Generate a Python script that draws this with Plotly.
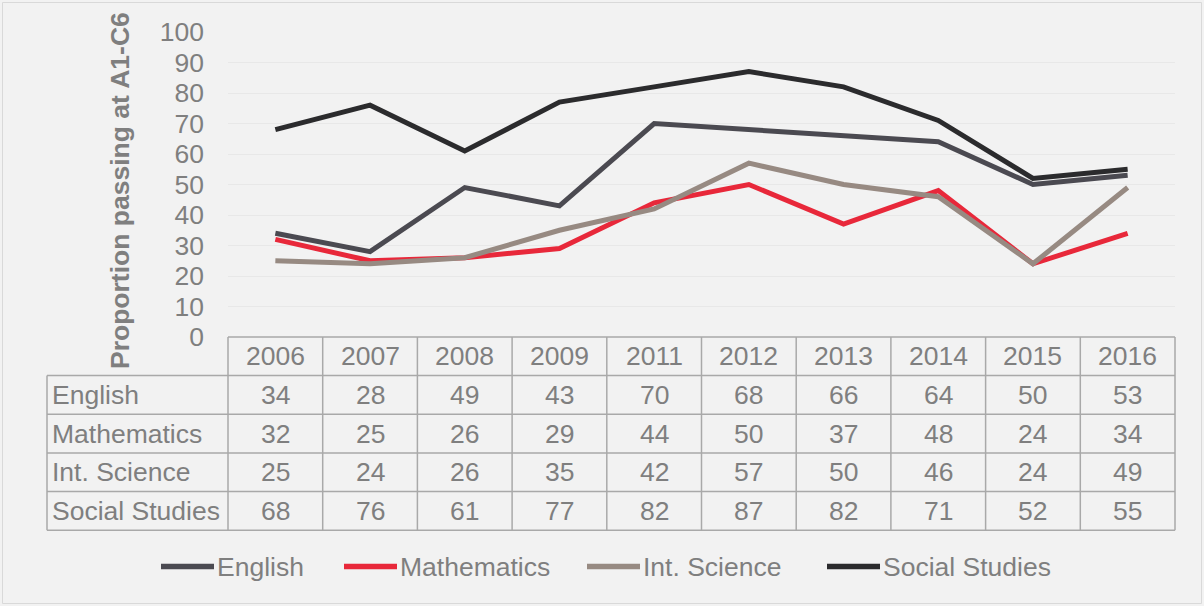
import plotly.graph_objects as go

years = ["2006", "2007", "2008", "2009", "2011", "2012", "2013", "2014", "2015", "2016"]
series_names = ["English", "Mathematics", "Int. Science", "Social Studies"]
english = [34, 28, 49, 43, 70, 68, 66, 64, 50, 53]
mathematics = [32, 25, 26, 29, 44, 50, 37, 48, 24, 34]
int_science = [25, 24, 26, 35, 42, 57, 50, 46, 24, 49]
social_studies = [68, 76, 61, 77, 82, 87, 82, 71, 52, 55]
y_ticks = [0, 10, 20, 30, 40, 50, 60, 70, 80, 90, 100]

series_values = [english, mathematics, int_science, social_studies]
colors = ["#4b4a51", "#e8283a", "#978a82", "#2b2b2d"]

FONT = "Liberation Sans, Arial, sans-serif"
FS = 26.5
TXT = "#7f7f7f"
GRIDC = "#e8e8e8"
TABLEC = "#a9a9a9"

W, H = 1204, 606
L, R, T, B = 228, 29, 32, 269
PW = W - L - R
PH = H - T - B


def px(x):
    return (x - L) / PW


def py(y):
    return (H - B - y) / PH


fig = go.Figure()
for name, vals, c in zip(series_names, series_values, colors):
    fig.add_trace(go.Scatter(
        x=years, y=vals, name=name, mode="lines",
        line=dict(color=c, width=5), showlegend=False,
        hoverinfo="x+y+name"))

shapes = []
annotations = []

# table geometry
row_lines = [337, 375.6, 414.3, 452.9, 491.6, 530.3]
label_left = 47
ncol = len(years)


def colx(i):
    # column centre in paper coords (axis range is [-0.5, ncol-0.5])
    return (i + 0.5) / ncol


# horizontal lines
shapes.append(dict(type="line", xref="paper", yref="paper",
                   x0=0, x1=1, y0=py(row_lines[0]), y1=py(row_lines[0]),
                   line=dict(color=TABLEC, width=1.5)))
for yl in row_lines[1:]:
    shapes.append(dict(type="line", xref="paper", yref="paper",
                       x0=px(label_left), x1=1, y0=py(yl), y1=py(yl),
                       line=dict(color=TABLEC, width=1.5)))
# vertical lines
for k in range(ncol + 1):
    shapes.append(dict(type="line", xref="paper", yref="paper",
                       x0=k / ncol, x1=k / ncol, y0=py(row_lines[0]), y1=py(row_lines[-1]),
                       line=dict(color=TABLEC, width=1.5)))
shapes.append(dict(type="line", xref="paper", yref="paper",
                   x0=px(label_left), x1=px(label_left), y0=py(row_lines[1]), y1=py(row_lines[-1]),
                   line=dict(color=TABLEC, width=1.5)))

# header texts
hy = (row_lines[0] + row_lines[1]) / 2
for i, yr in enumerate(years):
    annotations.append(dict(x=colx(i), xref="paper", y=py(hy), yref="paper", text=yr,
                            showarrow=False, xanchor="center", yanchor="middle",
                            font=dict(family=FONT, size=FS, color=TXT)))
# rows
for r, (name, vals) in enumerate(zip(series_names, series_values)):
    cy = (row_lines[r + 1] + row_lines[r + 2]) / 2
    annotations.append(dict(x=px(label_left + 3), xref="paper", y=py(cy), yref="paper",
                            text=name, showarrow=False, xanchor="left", yanchor="middle",
                            font=dict(family=FONT, size=FS, color=TXT)))
    for i, v in enumerate(vals):
        annotations.append(dict(x=colx(i), xref="paper", y=py(cy), yref="paper", text=str(v),
                                showarrow=False, xanchor="center", yanchor="middle",
                                font=dict(family=FONT, size=FS, color=TXT)))

# custom legend
leg_y = 566.5
leg_x = [160, 343, 586, 826]
for name, c, lx in zip(series_names, colors, leg_x):
    shapes.append(dict(type="line", xref="paper", yref="paper",
                       x0=px(lx + 1), x1=px(lx + 54), y0=py(leg_y), y1=py(leg_y),
                       line=dict(color=c, width=5.5)))
    annotations.append(dict(x=px(lx + 55), xref="paper", y=py(leg_y), yref="paper",
                            text=name, showarrow=False, xanchor="left", yanchor="middle",
                            font=dict(family=FONT, size=FS, color=TXT)))

# y axis title
annotations.append(dict(x=px(120), xref="paper", y=py(191), yref="paper",
                        text="<b>Proportion passing at A1-C6</b>", textangle=-90,
                        showarrow=False, xanchor="center", yanchor="middle",
                        font=dict(family=FONT, size=FS, color=TXT)))

# outer border
shapes.append(dict(type="rect", xref="paper", yref="paper", layer="below",
                   x0=px(2.5), x1=px(1201.5), y0=py(2.5), y1=py(603.5),
                   line=dict(color="#d9d9d9", width=1)))

fig.update_layout(
    width=W, height=H, autosize=False,
    margin=dict(l=L, r=R, t=T, b=B, pad=0),
    paper_bgcolor="#f2f2f2", plot_bgcolor="#f2f2f2",
    font=dict(family=FONT, size=FS, color=TXT),
    shapes=shapes, annotations=annotations,
    xaxis=dict(type="category", range=[-0.5, ncol - 0.5], showticklabels=False,
               showgrid=False, zeroline=False, showline=False, ticks=""),
    yaxis=dict(range=[0, 100], tickvals=y_ticks, ticks="", showline=False,
               zeroline=False, gridcolor=GRIDC, gridwidth=1.2,
               tickfont=dict(family=FONT, size=FS, color=TXT),
               ticklabelstandoff=23),
)

fig.write_html(
    "out.html",
    config={"displayModeBar": False},
    post_script="document.body.style.margin='0';document.body.style.overflow='hidden';",
)
